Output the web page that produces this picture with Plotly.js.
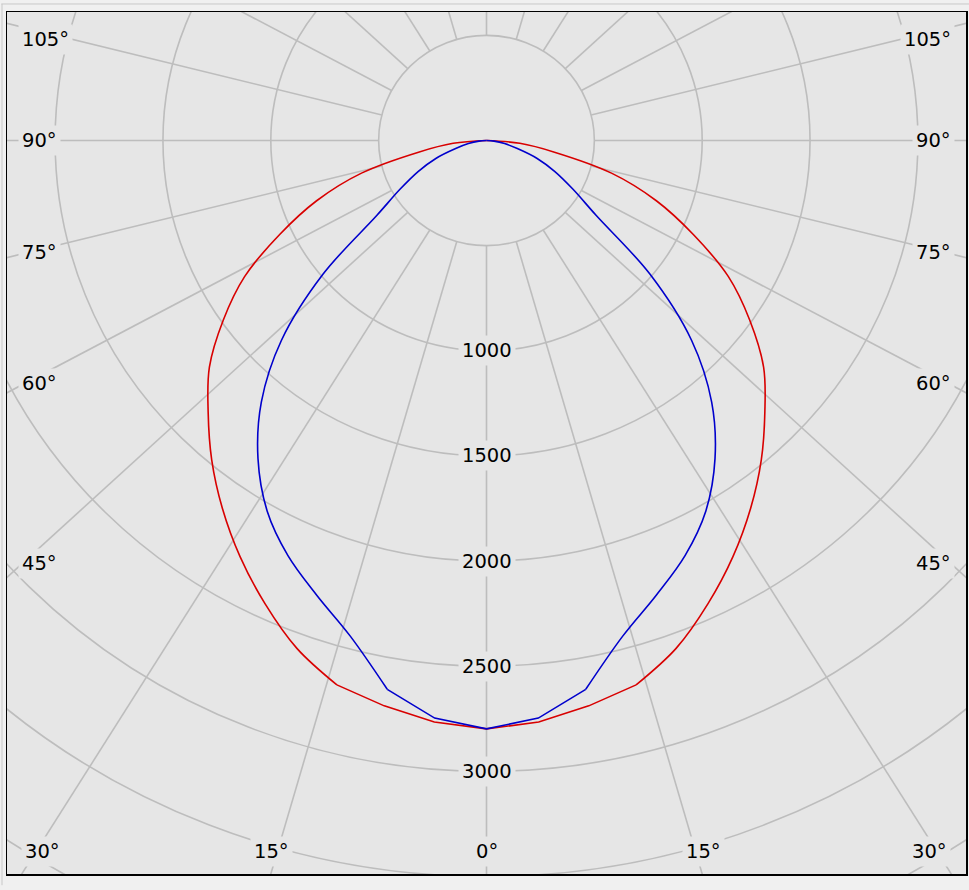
<!DOCTYPE html>
<html><head><meta charset="utf-8">
<script src="https://cdn.plot.ly/plotly-3.0.1.min.js"></script>
<style>html,body{margin:0;padding:0;background:#f0f0f0;} #chart{width:969px;height:890px;}</style>
</head><body><div id="chart"></div>
<script>
// gamma angles (degrees from nadir), mirrored left/right
const gammaAngles = [0,5,10,15,20,25,30,35,40,45,50,55,60,65,70,75,80,85,90];
// C0-C180 plane (red)
const redIntensity  = [2798,2776,2730,2680,2570,2430,2285,2135,1982,1825,1677,1490,1295,1058,838,600,320,155,0];
// C90-C270 plane (blue)
const blueIntensity = [2798,2757,2650,2440,2301,2178,2034,1847,1624,1345,990,620,462,350,250,148,85,35,0];
// grid
const ringValues = [500,1000,1500,2000,2500,3000,3500,4000,4500,5000];
const ringLabels = [1000,1500,2000,2500,3000];
const spokeAngles = [0,15,30,45,60,75,90,105,120,135,150,165,180,195,210,225,240,255,270,285,300,315,330,345];
const angleLabelsLeft  = ['105°','90°','75°','60°','45°','30°'];
const angleLabelsRight = ['105°','90°','75°','60°','45°','30°'];
const angleLabelsBottom = ['15°','0°','15°'];

const D = Math.PI/180;
function pt(g, v){ return [v*Math.sin(g*D), -v*Math.cos(g*D)]; }
// returns three pieces: left flank, bottom, right flank
function pieces(vals, split){
  const left={x:[],y:[]}, bottom={x:[],y:[]}, right={x:[],y:[]};
  for(let i=gammaAngles.length-1;i>=0;i--){ if(gammaAngles[i]>=split){ const p=pt(-gammaAngles[i],vals[i]); left.x.push(p[0]); left.y.push(p[1]); } }
  for(let i=gammaAngles.length-1;i>=0;i--){ if(gammaAngles[i]<=split){ const p=pt(-gammaAngles[i],vals[i]); bottom.x.push(p[0]); bottom.y.push(p[1]); } }
  for(let i=1;i<gammaAngles.length;i++){ if(gammaAngles[i]<=split){ const p=pt(gammaAngles[i],vals[i]); bottom.x.push(p[0]); bottom.y.push(p[1]); } }
  for(let i=0;i<gammaAngles.length;i++){ if(gammaAngles[i]>=split){ const p=pt(gammaAngles[i],vals[i]); right.x.push(p[0]); right.y.push(p[1]); } }
  return [left,bottom,right];
}

// spokes (display angle slightly widened horizontally, as in the original drawing)
const spokeStretch = 1.07;
const sx=[], sy=[];
spokeAngles.forEach(a=>{
  const t=a*D; let dx=Math.sin(t)*spokeStretch, dy=-Math.cos(t);
  const n=Math.hypot(dx,dy); dx/=n; dy/=n;
  sx.push(500*dx, 8000*dx, null); sy.push(500*dy, 8000*dy, null);
});

const gridColor = '#bdbdbd';
const traces = [
  {x:sx, y:sy, mode:'lines', line:{color:gridColor,width:1.6}, hoverinfo:'skip', showlegend:false}
];
function addCurve(vals, color, split){
  const [l,b,r] = pieces(vals, split);
  traces.push({x:l.x, y:l.y, mode:'lines', line:{color,width:1.6,shape:'spline',smoothing:1}, showlegend:false});
  traces.push({x:b.x, y:b.y, mode:'lines', line:{color,width:1.6}, showlegend:false});
  traces.push({x:r.x, y:r.y, mode:'lines', line:{color,width:1.6,shape:'spline',smoothing:1}, showlegend:false});
}
addCurve(redIntensity, '#d80000', 15);
addCurve(blueIntensity, '#0000cc', 10);

const shapes = ringValues.map(r=>({type:'circle', xref:'x', yref:'y', x0:-r, x1:r, y0:-r, y1:r,
  line:{color:gridColor,width:1.6}, layer:'below'}));
// outer window lines
shapes.push({type:'line', xref:'paper', yref:'paper', x0:-0.006, x1:1.004, y0:1.0093, y1:1.0093, line:{color:'#c8c8c8',width:1}});
shapes.push({type:'line', xref:'paper', yref:'paper', x0:-0.0052, x1:-0.0052, y0:-0.013, y1:1.0093, line:{color:'#c8c8c8',width:1}});

const font = {family:'DejaVu Sans, Verdana, sans-serif', size:19.5, color:'#000'};
const bg = '#e6e6e6';
const annotations = [];
ringLabels.forEach(v=>annotations.push({x:0, y:-v, xref:'x', yref:'y', text:String(v), showarrow:false,
  font, bgcolor:bg, borderpad:3, xanchor:'center', yanchor:'middle'}));

const W0=7, W1=966, H0=12, H1=874;
const px = p=>(p-W0)/(W1-W0), py = p=>(H1-p)/(H1-H0);
const leftY = [40,140,253,383,563];
leftY.forEach((y,i)=>{
  annotations.push({x:px(18), y:py(y), xref:'paper', yref:'paper', text:angleLabelsLeft[i], showarrow:false, font, bgcolor:bg, borderpad:3, xanchor:'left', yanchor:'middle'});
  annotations.push({x:px(955), y:py(y), xref:'paper', yref:'paper', text:angleLabelsRight[i], showarrow:false, font, bgcolor:bg, borderpad:3, xanchor:'right', yanchor:'middle'});
});
annotations.push({x:px(42.5), y:py(851), xref:'paper', yref:'paper', text:angleLabelsLeft[5], showarrow:false, font, bgcolor:bg, borderpad:3, xanchor:'center', yanchor:'middle'});
annotations.push({x:px(929.5), y:py(851), xref:'paper', yref:'paper', text:angleLabelsRight[5], showarrow:false, font, bgcolor:bg, borderpad:3, xanchor:'center', yanchor:'middle'});
[271.5,487,703].forEach((x,i)=>annotations.push({x:px(x), y:py(851), xref:'paper', yref:'paper', text:angleLabelsBottom[i], showarrow:false, font, bgcolor:bg, borderpad:3, xanchor:'center', yanchor:'middle'}));

const axisCommon = {showgrid:false, zeroline:false, showticklabels:false, ticks:'', showline:true, mirror:true, linecolor:'#000', linewidth:1.5, fixedrange:true};
const layout = {
  width:969, height:890,
  margin:{l:7, r:3, t:12, b:16},
  paper_bgcolor:'#f0f0f0', plot_bgcolor:bg,
  xaxis:Object.assign({range:[-2223,2223]}, axisCommon),
  yaxis:Object.assign({range:[-3488,611]}, axisCommon),
  shapes, annotations, showlegend:false
};
Plotly.newPlot('chart', traces, layout, {displayModeBar:false, staticPlot:true});
</script></body></html>
